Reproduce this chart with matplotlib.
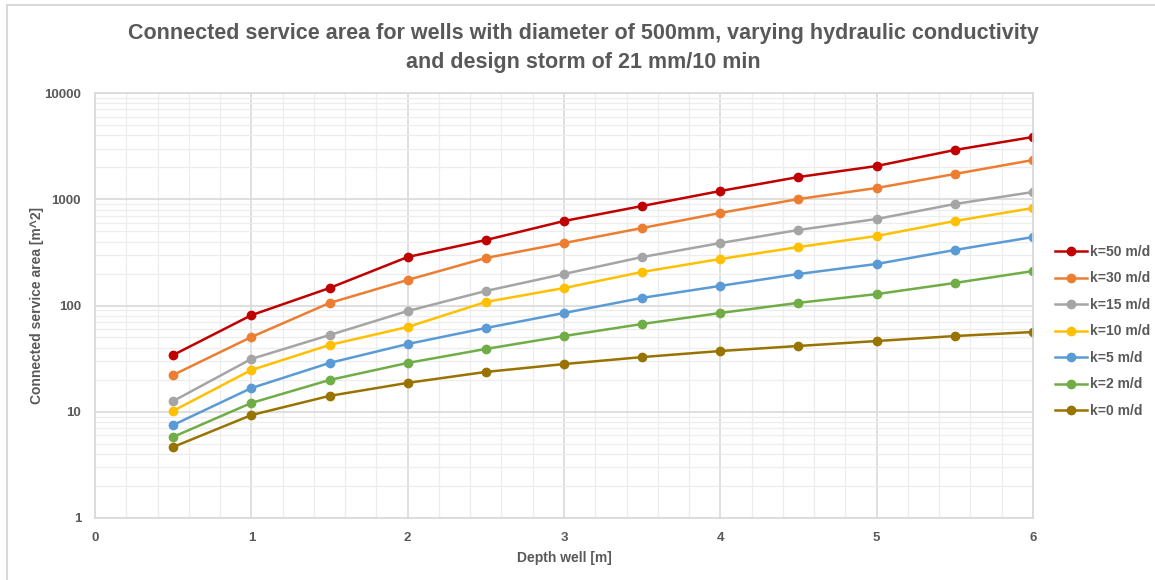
"""Connected service area vs well depth, log scale"""
import matplotlib
matplotlib.use('Agg')
import matplotlib.pyplot as plt
from matplotlib.lines import Line2D
from matplotlib.ticker import FixedLocator, LogLocator, NullFormatter

plt.rcParams['font.family'] = ['Liberation Sans', 'DejaVu Sans']

depth = [0.5, 1, 1.5, 2, 2.5, 3, 3.5, 4, 4.5, 5, 5.5, 6]

k50 = [34.2, 81, 146, 286, 413, 624, 864, 1196, 1619, 2055, 2909, 3854]
k30 = [22.2, 50.5, 105.6, 174, 280, 387, 536, 743, 1005, 1276, 1729, 2340]
k15 = [12.6, 31.4, 52.7, 88.7, 137, 198, 286, 387, 514, 652, 902, 1170]
k10 = [10.2, 24.7, 42.5, 62.8, 108, 146, 207, 274, 355, 451, 624, 827]
k5 = [7.5, 16.7, 28.8, 43.4, 61.4, 85, 118, 153, 198, 246, 333, 441]
k2 = [5.8, 12.1, 19.9, 28.8, 39, 51.6, 67, 85, 106, 128, 163, 211]
k0 = [4.66, 9.3, 14.1, 18.7, 23.7, 28.1, 32.7, 37.3, 41.6, 46.3, 51.6, 56.3]

series = [
    ('k=50 m/d', k50, '#C00000'),
    ('k=30 m/d', k30, '#ED7D31'),
    ('k=15 m/d', k15, '#A5A5A5'),
    ('k=10 m/d', k10, '#FFC000'),
    ('k=5 m/d', k5, '#5B9BD5'),
    ('k=2 m/d', k2, '#70AD47'),
    ('k=0 m/d', k0, '#997300'),
]

title = ('Connected service area for wells with diameter of 500mm, varying hydraulic conductivity\n'
         'and design storm of 21 mm/10 min')
text_grey = '#595959'

fig = plt.figure(figsize=(11.55, 5.8), dpi=100)
ax = fig.add_axes([95 / 1155, 62 / 580, 938 / 1155, 425 / 580])

for label, vals, color in series:
    ax.plot(depth, vals, color=color, linewidth=1.8, marker='o', markersize=6,
            label=label)

ax.set_yscale('log')
ax.set_xlim(0, 6)
ax.set_ylim(1, 10000)

ax.xaxis.set_major_locator(FixedLocator([0, 1, 2, 3, 4, 5, 6]))
ax.xaxis.set_minor_locator(FixedLocator([i / 5 for i in range(31) if i % 5]))
ax.yaxis.set_major_locator(FixedLocator([1, 10, 100, 1000, 10000]))
ax.yaxis.set_minor_locator(LogLocator(base=10, subs=range(2, 10)))
ax.yaxis.set_minor_formatter(NullFormatter())
ax.set_yticklabels(['1', '10', '100', '1000', '10000'])

ax.grid(which='major', color='#D9D9D9', linewidth=1.2)
ax.grid(which='minor', color='#EDEDED', linewidth=0.9)
ax.set_axisbelow(True)
for side in ['top', 'right', 'bottom', 'left']:
    ax.spines[side].set_color('#D9D9D9')
    ax.spines[side].set_linewidth(1.2)
ax.tick_params(which='both', length=0, labelsize=9.5, labelcolor=text_grey, pad=10)
for lab in ax.get_xticklabels() + ax.get_yticklabels():
    lab.set_fontweight('bold')

ax.set_xlabel('Depth well [m]', fontsize=10, fontweight='bold', color=text_grey,
              labelpad=5)
ax.set_ylabel('Connected service area [m^2]', fontsize=10, fontweight='bold',
              color=text_grey, labelpad=0)

fig.text(583 / 1155, 1 - 48 / 580, title, ha='center', va='center', fontsize=15.5,
         fontweight='bold', color=text_grey, linespacing=1.45)

ax.legend(loc='center left', bbox_to_anchor=(1.01, 0.439), frameon=False,
          labelspacing=0.9, handlelength=2.3, handletextpad=0.2,
          prop={'weight': 'bold', 'size': 10})
for t in ax.get_legend().get_texts():
    t.set_color(text_grey)

# outer chart frame (top and left edges)
fig.add_artist(Line2D([7 / 1155, 1], [1 - 5 / 580, 1 - 5 / 580],
                      transform=fig.transFigure, color='#D9D9D9', linewidth=1.5))
fig.add_artist(Line2D([7 / 1155, 7 / 1155], [0, 1 - 5 / 580],
                      transform=fig.transFigure, color='#D9D9D9', linewidth=1.5))

fig.savefig('out.png', dpi=100)
